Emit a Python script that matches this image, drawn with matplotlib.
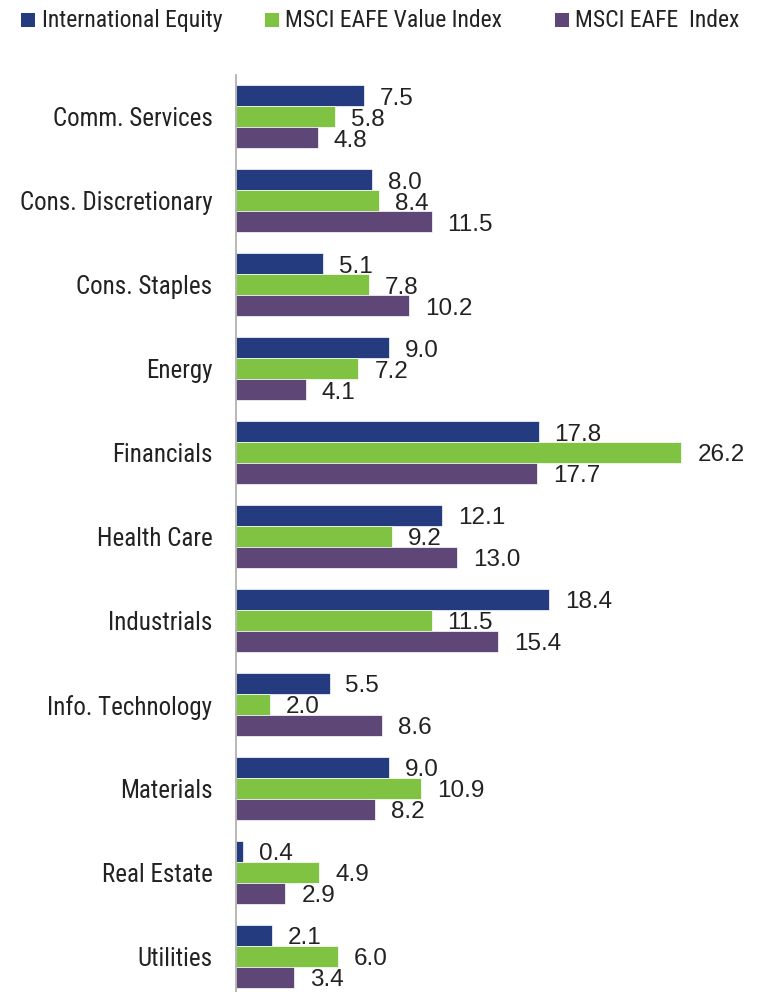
import matplotlib
matplotlib.use("Agg")
import matplotlib.pyplot as plt
from matplotlib.patches import Rectangle
import numpy as np

plt.rcParams['font.family'] = ['Roboto Condensed', 'DejaVu Sans']

categories = ["Comm. Services", "Cons. Discretionary", "Cons. Staples", "Energy",
              "Financials", "Health Care", "Industrials", "Info. Technology",
              "Materials", "Real Estate", "Utilities"]
series_names = ["International Equity", "MSCI EAFE Value Index", "MSCI EAFE  Index"]
intl_equity = [7.5, 8.0, 5.1, 9.0, 17.8, 12.1, 18.4, 5.5, 9.0, 0.4, 2.1]
eafe_value = [5.8, 8.4, 7.8, 7.2, 26.2, 9.2, 11.5, 2.0, 10.9, 4.9, 6.0]
eafe_index = [4.8, 11.5, 10.2, 4.1, 17.7, 13.0, 15.4, 8.6, 8.2, 2.9, 3.4]
colors = ["#253B80", "#80C241", "#5E4777"]

W, H = 764, 992
fig = plt.figure(figsize=(W/100, H/100), dpi=100)
ax = fig.add_axes([236/W, 0.0, 528/W, 1 - 75/H])

y = np.arange(len(categories))
h = 0.25
for i, (vals, c) in enumerate(zip([intl_equity, eafe_value, eafe_index], colors)):
    pos = y + (i - 1) * h
    ax.barh(pos, vals, height=h, color=c, edgecolor='white', linewidth=0.5)
    for p, v in zip(pos, vals):
        ax.annotate(f"{v:.1f}", (v, p), xytext=(11.5, -6.2), textcoords='offset points',
                    va='baseline', ha='left', fontsize=17.5, color='#222222',
                    family=['Liberation Sans', 'DejaVu Sans'])

ax.set_xlim(0, 528/17)
ax.set_ylim(10.42, -0.5)
ax.set_yticks(y)
ax.set_yticklabels(categories, fontsize=18, color='#222222')
ax.tick_params(axis='y', length=0, pad=17)
ax.set_xticks([])
for s in ['top', 'right', 'bottom']:
    ax.spines[s].set_visible(False)
ax.spines['left'].set_color('#AAAAAA')
ax.spines['left'].set_linewidth(1.2)

# legend (manual, top row)
sq_x = [21, 265, 555]
tx_x = [42, 285, 575]
for sx, tx, c, name in zip(sq_x, tx_x, colors, series_names):
    fig.patches.append(Rectangle((sx/W, 1 - 27/H), 14/W, 14/H, transform=fig.transFigure,
                                 facecolor=c, edgecolor='none'))
    fig.text(tx/W, 1 - 27/H, name, fontsize=17, color='#222222', va='baseline', ha='left')

fig.savefig("out.png", dpi=100)
